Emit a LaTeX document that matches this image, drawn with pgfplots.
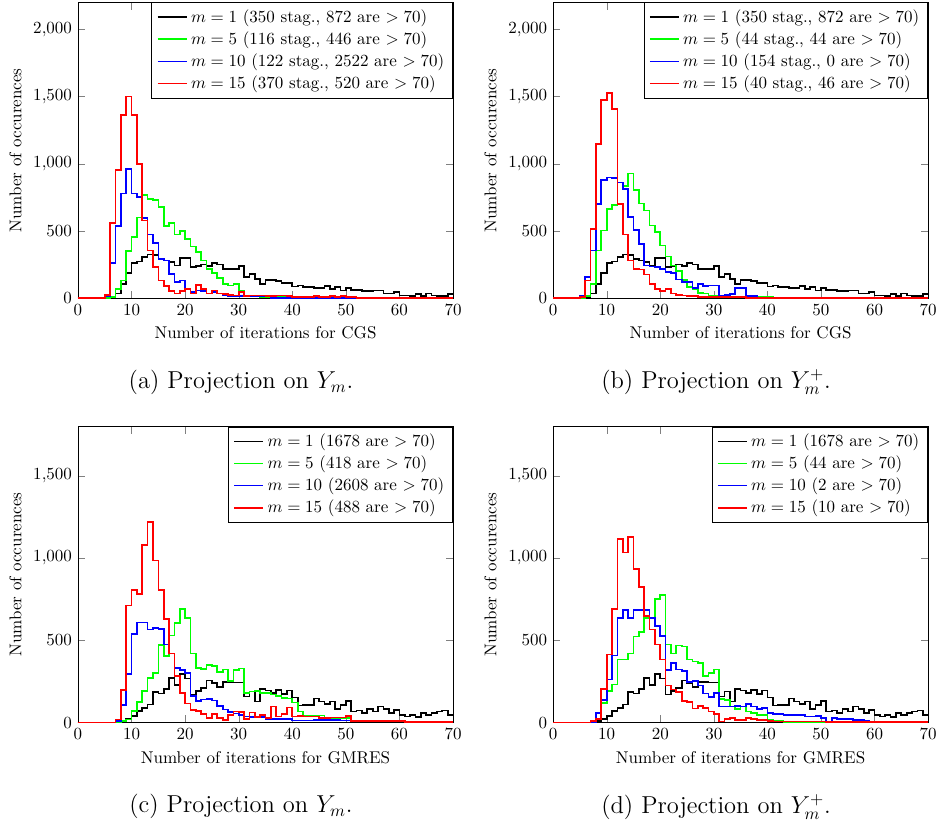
\documentclass[border=0pt]{standalone}
\usepackage{pgfplots}
\usepackage{pgfplotstable}
\pgfplotsset{compat=1.18}

% CGS, projection on Y_m
\pgfplotstableread{
x k1 k5 k10 k15
0 0 0 0 0
1 0 0 0 0
2 0 0 0 0
3 0 0 0 0
4 0 0 0 0
5 0 0 15 25
6 10 10 262 558
7 35 72 538 953
8 109 133 780 1363
9 188 350 960 1501
10 262 454 780 1363
11 274 602 755 997
12 306 770 597 578
13 326 738 474 356
14 323 731 410 232
15 294 677 294 133
16 281 538 281 91
17 272 558 183 54
18 244 474 121 35
19 299 499 133 52
20 299 442 72 69
21 232 385 47 35
22 242 343 59 99
23 252 281 54 69
24 242 220 35 35
25 262 188 47 59
26 252 153 35 35
27 217 109 22 30
28 217 95 15 25
29 220 105 15 22
30 240 55 15 45
31 158 22 15 17
32 183 15 15 22
33 146 15 15 20
34 109 12 15 20
35 138 12 15 15
36 138 12 5 15
37 128 10 5 20
38 114 10 5 22
39 114 10 5 15
40 89 8 5 12
41 96 5 5 12
42 84 5 5 10
43 84 5 5 10
44 79 5 5 15
45 79 5 5 10
46 94 5 5 10
47 72 5 5 15
48 84 5 5 10
49 59 5 5 15
50 79 5 5 8
51 64 5 5 8
52 64 5 5 5
53 54 5 5 5
54 54 5 5 5
55 59 5 5 5
56 59 5 5 5
57 35 5 5 5
58 35 5 5 5
59 47 5 5 5
60 22 5 5 5
61 22 5 5 5
62 15 5 5 5
63 30 5 5 5
64 15 5 5 5
65 35 5 5 5
66 22 5 5 5
67 15 5 5 5
68 15 5 5 5
69 30 5 5 5
70 30 5 5 5
}\tabA

% CGS, projection on Y_m^+
\pgfplotstableread{
x k1 k5 k10 k15
0 0 0 0 0
1 0 0 0 0
2 0 0 0 0
3 0 0 0 0
4 0 0 0 0
5 0 0 22 10
6 10 15 158 133
7 35 109 356 516
8 109 356 701 1146
9 188 504 881 1472
10 262 664 899 1528
11 274 696 894 1405
12 306 862 862 700
13 326 837 812 474
14 323 928 607 281
15 294 805 509 220
16 281 706 405 215
17 272 652 244 178
18 244 541 237 104
19 299 491 232 72
20 299 393 220 54
21 232 311 195 72
22 242 244 188 35
23 252 202 141 27
24 242 138 121 22
25 262 84 121 15
26 252 72 79 15
27 217 42 109 10
28 217 35 91 10
29 220 22 96 10
30 240 20 96 10
31 158 15 20 10
32 183 12 25 8
33 146 10 30 8
34 109 8 79 8
35 138 8 79 8
36 138 8 17 5
37 128 8 17 5
38 114 8 5 3
39 114 8 5 3
40 89 8 5 3
41 96 3 5 3
42 84 3 5 3
43 84 3 5 3
44 79 3 5 3
45 79 3 5 3
46 94 3 2 3
47 72 3 2 3
48 84 3 2 3
49 59 3 2 3
50 79 3 2 3
51 64 3 2 3
52 64 3 2 3
53 54 3 2 3
54 54 3 2 3
55 59 3 2 3
56 59 3 2 3
57 35 3 2 3
58 35 3 2 3
59 47 3 2 3
60 22 3 2 3
61 22 3 2 3
62 15 3 2 3
63 30 3 2 3
64 15 3 2 3
65 35 3 2 3
66 22 3 2 3
67 15 3 2 3
68 15 3 2 3
69 30 3 2 3
70 30 3 2 3
}\tabB

% GMRES, projection on Y_m
\pgfplotstableread{
x k1 k5 k10 k15
0 0 0 0 0
1 0 0 0 0
2 0 0 0 0
3 0 0 0 0
4 0 0 0 0
5 0 0 0 0
6 0 0 0 0
7 0 0 8 18
8 8 8 105 196
9 22 18 297 712
10 38 69 538 808
11 69 123 609 781
12 89 190 609 1081
13 109 271 565 1220
14 184 302 575 986
15 176 470 569 804
16 206 403 474 629
17 271 530 419 419
18 227 605 332 281
19 297 690 318 180
20 267 636 302 115
21 170 419 160 75
22 190 332 130 69
23 210 326 140 53
24 255 352 144 28
25 241 342 134 53
26 214 308 99 28
27 245 322 79 14
28 247 251 63 46
29 244 319 55 67
30 244 329 46 63
31 158 178 36 20
32 188 188 32 61
33 127 190 32 32
34 204 178 32 46
35 194 178 20 26
36 178 170 20 97
37 198 162 20 36
38 172 150 20 53
39 194 147 20 91
40 152 121 12 36
41 103 67 12 40
42 107 42 12 36
43 107 42 12 36
44 147 42 16 36
45 127 42 16 26
46 111 26 16 26
47 127 26 16 30
48 83 26 16 30
49 107 26 12 30
50 133 26 12 40
51 67 10 6 10
52 73 10 6 10
53 57 10 6 10
54 81 10 6 10
55 67 10 6 10
56 97 10 6 10
57 81 10 6 10
58 57 10 6 10
59 77 10 6 10
60 46 6 6 10
61 36 6 6 5
62 46 6 6 5
63 32 6 6 5
64 57 6 6 5
65 46 6 6 5
66 57 6 6 5
67 67 6 6 5
68 73 6 6 5
69 46 6 6 5
70 46 6 6 5
}\tabC

% GMRES, projection on Y_m^+
\pgfplotstableread{
x k1 k5 k10 k15
0 0 0 0 0
1 0 0 0 0
2 0 0 0 0
3 0 0 0 0
4 0 0 0 0
5 0 0 0 0
6 0 0 0 0
7 0 0 0 8
8 8 20 59 22
9 22 120 136 204
10 38 190 261 413
11 69 231 407 692
12 89 383 636 1115
13 109 383 686 1034
14 184 419 636 1127
15 176 524 686 933
16 206 549 686 824
17 271 636 686 646
18 227 636 636 565
19 297 751 585 474
20 267 777 528 383
21 170 474 318 225
22 190 419 362 200
23 210 468 322 184
24 255 463 312 130
25 241 383 245 123
26 214 372 251 85
27 245 362 225 99
28 247 285 176 89
29 244 300 155 67
30 244 323 178 53
31 158 141 97 6
32 188 137 97 20
33 127 97 97 26
34 204 81 101 16
35 194 97 97 16
36 178 67 113 26
37 198 57 97 20
38 172 46 81 16
39 194 46 87 16
40 152 16 57 10
41 103 10 51 6
42 107 10 51 6
43 107 4 46 6
44 147 4 46 6
45 127 4 44 6
46 111 4 44 6
47 127 4 36 6
48 83 4 36 6
49 107 4 40 6
50 133 4 26 6
51 67 4 6 3
52 73 4 26 3
53 57 4 20 3
54 81 4 20 3
55 67 4 20 3
56 97 4 16 3
57 81 4 16 3
58 57 4 10 3
59 77 4 5 3
60 46 4 5 3
61 36 4 5 3
62 46 4 5 3
63 32 4 5 3
64 57 4 5 3
65 46 4 5 3
66 57 4 5 3
67 67 4 5 3
68 73 4 5 3
69 46 4 5 3
70 46 4 5 3
}\tabD

\pgfplotsset{
  histax/.style={
    scale only axis,
    width=220.5pt, height=174pt,
    anchor=south west,
    xmin=0, xmax=70, ymin=0,
    xtick={0,10,...,70},
    ylabel={Number of occurences},
    legend cell align=left,
    legend style={at={(1,1)}, anchor=north east, font=\normalsize},
    every axis plot/.append style={const plot, line width=1pt},
  },
  cgsax/.style={histax, ymax=2200, ytick={0,500,1000,1500,2000},
    xlabel={Number of iterations for CGS}},
  gmresax/.style={histax, ymax=1800, ytick={0,500,1000,1500},
    xlabel={Number of iterations for GMRES}},
}

\begin{document}
\begin{tikzpicture}
\path[use as bounding box] (0,0) rectangle (551.5pt,-485.7pt);

% (a)
\begin{axis}[cgsax, at={(45.86pt,-175.4pt)}]
\addplot[black] table[x=x,y=k1] {\tabA};
\addplot[green] table[x=x,y=k5] {\tabA};
\addplot[blue] table[x=x,y=k10] {\tabA};
\addplot[red] table[x=x,y=k15] {\tabA};
\legend{{$m=1$ (350 stag., 872 are $>70$)},
        {$m=5$ (116 stag., 446 are $>70$)},
        {$m=10$ (122 stag., 2522 are $>70$)},
        {$m=15$ (370 stag., 520 are $>70$)}}
\end{axis}

% (b)
\begin{axis}[cgsax, at={(325.2pt,-175.4pt)}]
\addplot[black] table[x=x,y=k1] {\tabB};
\addplot[green] table[x=x,y=k5] {\tabB};
\addplot[blue] table[x=x,y=k10] {\tabB};
\addplot[red] table[x=x,y=k15] {\tabB};
\legend{{$m=1$ (350 stag., 872 are $>70$)},
        {$m=5$ (44 stag., 44 are $>70$)},
        {$m=10$ (154 stag., 0 are $>70$)},
        {$m=15$ (40 stag., 46 are $>70$)}}
\end{axis}

% (c)
\begin{axis}[gmresax, at={(45.86pt,-424.8pt)}]
\addplot[black] table[x=x,y=k1] {\tabC};
\addplot[green] table[x=x,y=k5] {\tabC};
\addplot[blue] table[x=x,y=k10] {\tabC};
\addplot[red] table[x=x,y=k15] {\tabC};
\legend{{$m=1$ (1678 are $>70$)},
        {$m=5$ (418 are $>70$)},
        {$m=10$ (2608 are $>70$)},
        {$m=15$ (488 are $>70$)}}
\end{axis}

% (d)
\begin{axis}[gmresax, at={(325.2pt,-424.8pt)}]
\addplot[black] table[x=x,y=k1] {\tabD};
\addplot[green] table[x=x,y=k5] {\tabD};
\addplot[blue] table[x=x,y=k10] {\tabD};
\addplot[red] table[x=x,y=k15] {\tabD};
\legend{{$m=1$ (1678 are $>70$)},
        {$m=5$ (44 are $>70$)},
        {$m=10$ (2 are $>70$)},
        {$m=15$ (10 are $>70$)}}
\end{axis}

\node[font=\fontsize{14.4}{17}\selectfont] at (141.7pt,-224.9pt) {(a) Projection on $Y_m$.};
\node[font=\fontsize{14.4}{17}\selectfont] at (421.0pt,-224.9pt) {(b) Projection on $Y_m^+$.};
\node[font=\fontsize{14.4}{17}\selectfont] at (141.7pt,-474.3pt) {(c) Projection on $Y_m$.};
\node[font=\fontsize{14.4}{17}\selectfont] at (421.0pt,-474.3pt) {(d) Projection on $Y_m^+$.};
\end{tikzpicture}
\end{document}
